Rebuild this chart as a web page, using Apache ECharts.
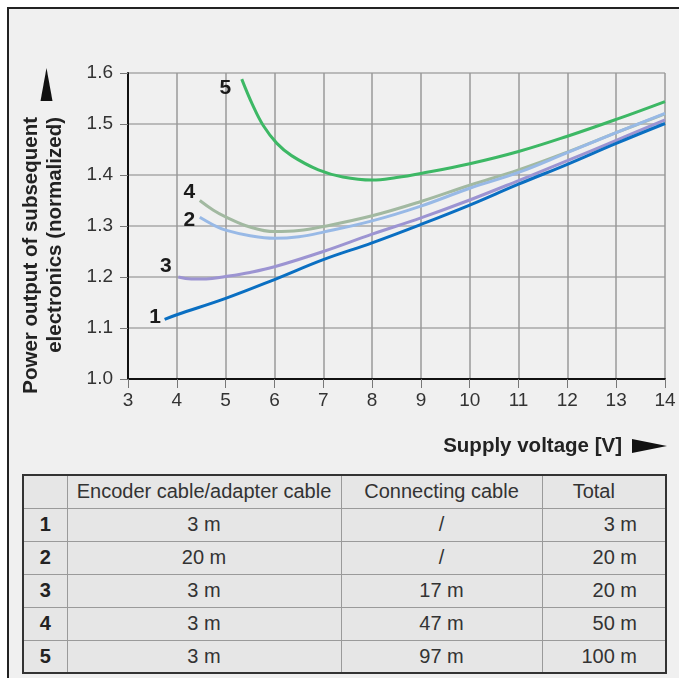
<!DOCTYPE html>
<html>
<head>
<meta charset="utf-8">
<script src="https://cdn.jsdelivr.net/npm/echarts@6/dist/echarts.min.js"></script>
<style>
  html, body { margin: 0; padding: 0; background: #ffffff; }
  #frame { position: absolute; left: 7px; top: 7px; width: 700px; height: 700px;
           background: #f0f0f0; border-top: 2px solid #222; border-left: 2px solid #222; box-sizing: border-box; }
  #chart { position: absolute; left: 0; top: 0; width: 679px; height: 678px; }
  #tbl { position: absolute; left: 22px; top: 474px; width: 643px; table-layout: fixed; border-collapse: collapse;
         font-family: "Liberation Sans", Arial, sans-serif; font-size: 20px; color: #333;
         background: #e6e6e6; border: 2px solid #333; }
  #tbl tr { height: 33px; }
  #tbl td { border: 1.5px solid #9a9a9a; padding: 0; text-align: center; white-space: nowrap; overflow: visible; }
  #tbl td.num { font-weight: bold; color: #222; }
  #tbl td.tot { text-align: right; padding-right: 28px; }
  #tbl td.toth { padding-right: 20px; }
</style>
</head>
<body>
<div id="frame"></div>
<div id="chart"></div>
<table id="tbl"></table>
<script>
// ---- data ----
const xTicks = [3, 4, 5, 6, 7, 8, 9, 10, 11, 12, 13, 14];
const yTicks = [1.0, 1.1, 1.2, 1.3, 1.4, 1.5, 1.6];
const seriesNames = ["1", "2", "3", "4", "5"];

const curve1 = [[3.75,1.117],[4,1.126],[5,1.158],[6,1.195],[7,1.234],[8,1.267],[9,1.303],[10,1.341],[11,1.382],[12,1.421],[13,1.462],[14,1.501]];
const curve2 = [[4.47,1.317],[4.75,1.302],[5,1.292],[5.5,1.281],[6,1.276],[6.5,1.279],[7,1.288],[8,1.31],[9,1.339],[10,1.374],[11,1.405],[12,1.444],[13,1.483],[14,1.521]];
const curve3 = [[4.03,1.2],[4.3,1.196],[4.6,1.196],[5,1.201],[5.5,1.209],[6,1.22],[7,1.25],[8,1.284],[9,1.316],[10,1.351],[11,1.389],[12,1.428],[13,1.468],[14,1.508]];
const curve4 = [[4.47,1.35],[4.75,1.331],[5,1.318],[5.5,1.298],[6,1.289],[6.5,1.291],[7,1.299],[8,1.32],[9,1.348],[10,1.38],[11,1.41],[12,1.445],[13,1.483],[14,1.52]];
const curve5 = [[5.33,1.588],[5.55,1.538],[5.77,1.497],[6.05,1.462],[6.35,1.438],[6.9,1.41],[7.4,1.396],[8,1.39],[8.5,1.395],[9,1.403],[10,1.422],[11,1.446],[12,1.476],[13,1.509],[14,1.544]];

const tableHeader = ["", "Encoder cable/adapter cable", "Connecting cable", "Total"];
const tableRows = [
  ["1", "3 m", "/", "3 m"],
  ["2", "20 m", "/", "20 m"],
  ["3", "3 m", "17 m", "20 m"],
  ["4", "3 m", "47 m", "50 m"],
  ["5", "3 m", "97 m", "100 m"]
];

// ---- styles ----
const colors = { "1": "#0a6fc2", "2": "#98b9e6", "3": "#9c94d2", "4": "#a2b9a1", "5": "#3db865" };
const labelPos = { "1": [-9, -2], "2": [-10, 3], "3": [-12, -10], "4": [-10, -8], "5": [-16, 10] };
const curves = { "1": curve1, "2": curve2, "3": curve3, "4": curve4, "5": curve5 };
const drawOrder = ["4", "2", "3", "5", "1"];
const FONT = '"Liberation Sans", Arial, sans-serif';

function buildSeries(name) {
  return {
    type: 'line', name: name, data: curves[name], smooth: 0.4,
    showSymbol: false, symbol: 'none',
    lineStyle: { color: colors[name], width: 3 },
    itemStyle: { color: colors[name] },
    emphasis: { disabled: true }, silent: true
  };
}

const labelSeries = {
  type: 'scatter', symbolSize: 1, silent: true, z: 5,
  itemStyle: { color: '#f0f0f0', opacity: 0 },
  data: seriesNames.map(n => ({
    value: curves[n][0],
    label: { show: true, formatter: n, position: labelPos[n], align: 'center', verticalAlign: 'middle',
      fontSize: 21, fontWeight: 'bold', color: '#1a1a1a', opacity: 1, fontFamily: FONT }
  })),
  labelLayout: { hideOverlap: false }
};

const chart = echarts.init(document.getElementById('chart'), null, { renderer: 'canvas' });
chart.setOption({
  backgroundColor: 'transparent',
  animation: false,
  grid: { left: 128, right: 14, top: 73, bottom: 299, containLabel: false, outerBoundsMode: 'none' },
  xAxis: {
    type: 'value', min: xTicks[0], max: xTicks[xTicks.length - 1], interval: 1,
    axisLine: { show: true, onZero: false, lineStyle: { color: '#111', width: 2 } },
    axisTick: { show: true, length: 9, lineStyle: { color: '#777', width: 1 } },
    axisLabel: { color: '#333', fontSize: 19, fontFamily: FONT, margin: 12 },
    splitLine: { show: true, lineStyle: { color: '#9a9a9a', width: 1.5 } }
  },
  yAxis: {
    type: 'value', min: yTicks[0], max: yTicks[yTicks.length - 1], interval: 0.1,
    axisLine: { show: true, onZero: false, lineStyle: { color: '#111', width: 2 } },
    axisTick: { show: true, length: 8, lineStyle: { color: '#777', width: 1 } },
    axisLabel: { color: '#333', fontSize: 19, fontFamily: FONT, margin: 15,
      formatter: v => v.toFixed(1) },
    splitLine: { show: true, lineStyle: { color: '#a8a8a8', width: 1.5 } }
  },
  series: drawOrder.map(buildSeries).concat([labelSeries]),
  graphic: [
    { type: 'text', x: 31, y: 117, rotation: Math.PI / 2,
      style: { text: 'Power output of subsequent', font: 'bold 20.5px ' + FONT, fill: '#222',
        align: 'right', verticalAlign: 'middle' } },
    { type: 'text', x: 55, y: 117, rotation: Math.PI / 2,
      style: { text: 'electronics (normalized)', font: 'bold 20.5px ' + FONT, fill: '#222',
        align: 'right', verticalAlign: 'middle' } },
    { type: 'polygon', shape: { points: [[46.5, 68], [52.5, 101], [40.5, 101]] }, style: { fill: '#111' } },
    { type: 'text', x: 622, y: 446,
      style: { text: 'Supply voltage [V]', font: 'bold 20.5px ' + FONT, fill: '#222',
        align: 'right', verticalAlign: 'middle' } },
    { type: 'polygon', shape: { points: [[632, 439], [667, 446], [632, 453]] }, style: { fill: '#111' } }
  ]
});

// ---- table ----
const tbl = document.getElementById('tbl');
const colWidths = [44, 274, 201, 124];
const cg = document.createElement('colgroup');
colWidths.forEach(w => { const c = document.createElement('col'); c.style.width = w + 'px'; cg.appendChild(c); });
tbl.appendChild(cg);
function addRow(cells, header) {
  const tr = document.createElement('tr');
  cells.forEach((c, i) => {
    const td = document.createElement('td');
    td.textContent = c;
    if (i === 0) td.className = 'num';
    if (i === 3) td.className = header ? 'toth' : 'tot';
    tr.appendChild(td);
  });
  tbl.appendChild(tr);
}
addRow(tableHeader, true);
tableRows.forEach(r => addRow(r, false));
</script>
</body>
</html>
